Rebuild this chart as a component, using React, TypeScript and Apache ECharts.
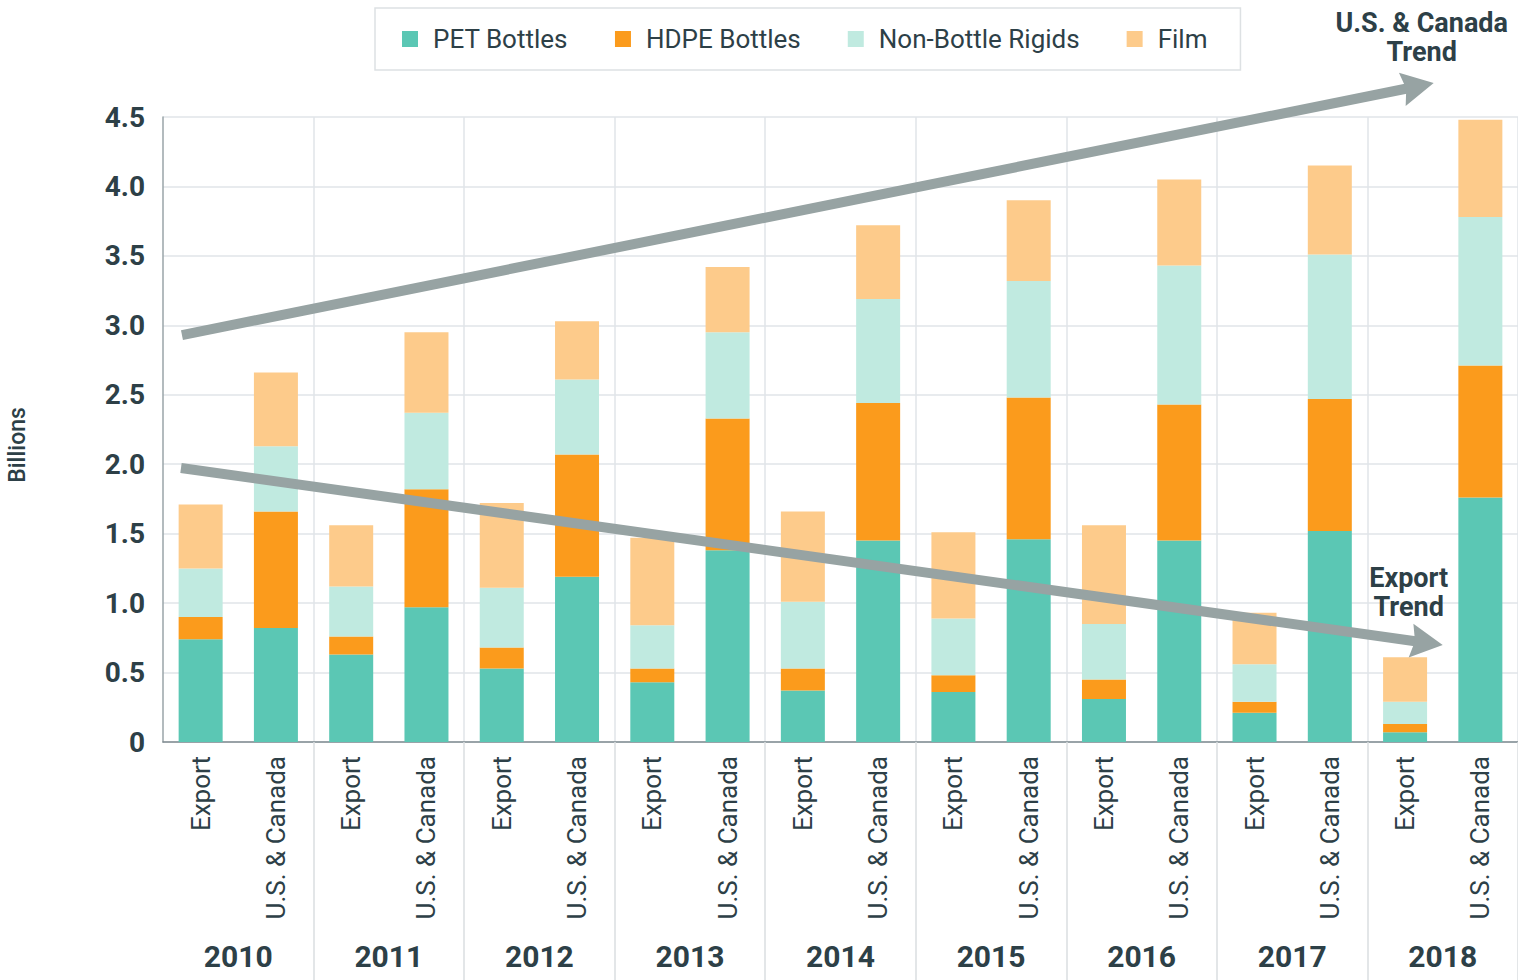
import React, { useEffect, useRef } from 'react';
import * as echarts from 'echarts';

const years = ['2010', '2011', '2012', '2013', '2014', '2015', '2016', '2017', '2018'];
const groups = ['Export', 'U.S. & Canada'];
const categories = years.flatMap((y) => groups.map((g) => `${y}|${g}`));

// segment values (billions), order: 2010 Export, 2010 U.S.&Canada, 2011 Export, ...
const petBottles = [0.74, 0.82, 0.63, 0.97, 0.53, 1.19, 0.43, 1.38, 0.37, 1.45, 0.36, 1.46, 0.31, 1.45, 0.21, 1.52, 0.07, 1.76];
const hdpeBottles = [0.16, 0.84, 0.13, 0.85, 0.15, 0.88, 0.10, 0.95, 0.16, 0.99, 0.12, 1.02, 0.14, 0.98, 0.08, 0.95, 0.06, 0.95];
const nonBottleRigids = [0.35, 0.47, 0.36, 0.55, 0.43, 0.54, 0.31, 0.62, 0.48, 0.75, 0.41, 0.84, 0.40, 1.00, 0.27, 1.04, 0.16, 1.07];
const film = [0.46, 0.53, 0.44, 0.58, 0.61, 0.42, 0.63, 0.47, 0.65, 0.53, 0.62, 0.58, 0.71, 0.62, 0.37, 0.64, 0.32, 0.70];

const yTicks = { min: 0, max: 4.5, interval: 0.5 };

// trend arrows: [categoryPosition, value] start -> tip
const trendUS = [[0.252, 2.93], [16.88, 4.744]];
const trendExport = [[0.239, 1.973], [17.0, 0.698]];

const TEXT = '#2d4047';
const ARROW = '#97a3a3';
const FONT = 'Roboto, "Noto Sans", sans-serif';

function arrowShapes(p0: number[], p1: number[]) {
  const dx = p1[0] - p0[0];
  const dy = p1[1] - p0[1];
  const L = Math.hypot(dx, dy);
  const ux = dx / L, uy = dy / L;
  const nx = -uy, ny = ux;
  const headLen = 32, halfW = 17, notch = 4;
  const bx = p1[0] - headLen * ux, by = p1[1] - headLen * uy;
  const sx = p1[0] - (headLen - notch - 2) * ux, sy = p1[1] - (headLen - notch - 2) * uy;
  return [
    {
      type: 'line',
      z: 100,
      shape: { x1: p0[0], y1: p0[1], x2: sx, y2: sy },
      style: { stroke: ARROW, lineWidth: 10 },
    },
    {
      type: 'polygon',
      z: 100,
      shape: {
        points: [
          [p1[0], p1[1]],
          [bx + halfW * nx, by + halfW * ny],
          [p1[0] - (headLen - notch) * ux, p1[1] - (headLen - notch) * uy],
          [bx - halfW * nx, by - halfW * ny],
        ],
      },
      style: { fill: ARROW },
    },
  ];
}

const groupBoundary = (i: number) => i % 2 === 0 && i > 0;

export default function App() {
  const ref = useRef<HTMLDivElement>(null);

  useEffect(() => {
    document.body.style.margin = '0';
    const chart = echarts.init(ref.current!, null, { renderer: 'svg' });
    const seriesDefs = [
      { name: 'PET Bottles', data: petBottles, color: '#5bc7b4' },
      { name: 'HDPE Bottles', data: hdpeBottles, color: '#fb9b1c' },
      { name: 'Non-Bottle Rigids', data: nonBottleRigids, color: '#c0eae0' },
      { name: 'Film', data: film, color: '#fdcb8b' },
    ];
    chart.setOption({
      animation: false,
      backgroundColor: '#ffffff',
      textStyle: { fontFamily: FONT },
      legend: {
        top: 8,
        left: 375,
        width: 866,
        padding: [18, 33, 18, 27],
        borderColor: '#dde1e3',
        borderWidth: 1.5,
        itemWidth: 16,
        itemHeight: 16,
        itemGap: 47,
        icon: 'rect',
        textStyle: { fontSize: 26, color: TEXT, fontFamily: FONT, padding: [0, 0, 0, 10] },
        data: seriesDefs.map((s) => s.name),
      },
      grid: { left: 163, right: 0, top: 117, bottom: 238, containLabel: false },
      xAxis: [
        {
          type: 'category',
          data: categories,
          position: 'bottom',
          axisLine: { show: true, lineStyle: { color: '#7f8b90', width: 1.5 } },
          axisTick: { show: true, interval: groupBoundary, length: 238, lineStyle: { color: '#dadee1', width: 1.5 } },
          splitLine: { show: true, interval: groupBoundary, lineStyle: { color: '#e1e5e8', width: 1.5 } },
          axisLabel: {
            rotate: 90,
            interval: 0,
            margin: 14,
            fontSize: 26,
            color: TEXT,
            fontFamily: FONT,
            formatter: (v: string) => v.split('|')[1],
          },
        },
        {
          type: 'category',
          data: years,
          position: 'bottom',
          offset: 0,
          axisLine: { show: false },
          axisTick: { show: false },
          splitLine: { show: false },
          axisLabel: {
            interval: 0,
            margin: 199,
            fontSize: 30,
            fontWeight: 'bold',
            color: TEXT,
            fontFamily: FONT,
          },
        },
        {
          type: 'value',
          min: 0,
          max: 18,
          position: 'top',
          show: false,
        },
      ],
      yAxis: {
        type: 'value',
        min: yTicks.min,
        max: yTicks.max,
        interval: yTicks.interval,
        axisLine: { show: true, lineStyle: { color: '#9aa5a9', width: 1.5 } },
        axisTick: { show: false },
        splitLine: { show: true, lineStyle: { color: '#e1e5e8', width: 1.5 } },
        axisLabel: {
          margin: 18,
          fontSize: 28,
          fontWeight: 'bold',
          color: TEXT,
          fontFamily: FONT,
          formatter: (v: number) => (v === 0 ? '0' : v.toFixed(1)),
        },
      },
      series: seriesDefs.map((s) => ({
        name: s.name,
        type: 'bar',
        stack: 'total',
        xAxisIndex: 0,
        yAxisIndex: 0,
        barWidth: 44,
        itemStyle: { color: s.color },
        emphasis: { disabled: true },
        data: s.data,
      })),
    });

    const toPx = (p: number[]) =>
      chart.convertToPixel({ xAxisIndex: 2, yAxisIndex: 0 } as any, p) as number[];
    const us0 = toPx(trendUS[0]), us1 = toPx(trendUS[1]);
    const ex0 = toPx(trendExport[0]), ex1 = toPx(trendExport[1]);

    chart.setOption({
      graphic: [
        ...arrowShapes(us0, us1),
        ...arrowShapes(ex0, ex1),
        {
          type: 'text',
          z: 101,
          x: 17,
          y: 445,
          rotation: Math.PI / 2,
          style: {
            text: 'Billions',
            align: 'center',
            verticalAlign: 'middle',
            font: `500 23px ${FONT}`,
            fill: TEXT,
          },
        },
        {
          type: 'text',
          z: 101,
          x: us1[0] - 12,
          y: 8,
          style: {
            text: 'U.S. & Canada\nTrend',
            align: 'center',
            verticalAlign: 'top',
            font: `bold 27px ${FONT}`,
            lineHeight: 29,
            fill: TEXT,
          },
        },
        {
          type: 'text',
          z: 101,
          x: ex1[0] - 34,
          y: 563,
          style: {
            text: 'Export\nTrend',
            align: 'center',
            verticalAlign: 'top',
            font: `bold 27px ${FONT}`,
            lineHeight: 29,
            fill: TEXT,
          },
        },
      ],
    });

    return () => chart.dispose();
  }, []);

  return <div ref={ref} style={{ width: 1518, height: 980 }} />;
}
